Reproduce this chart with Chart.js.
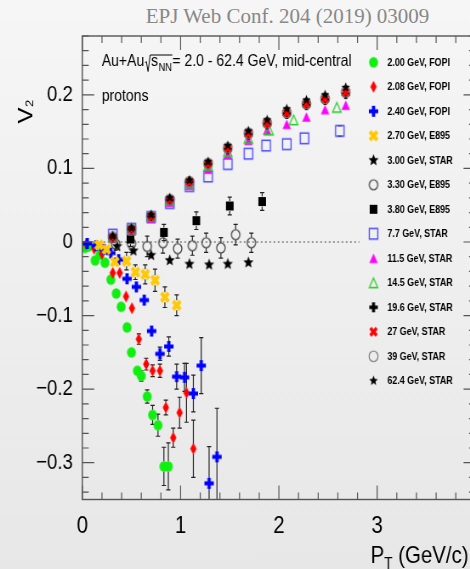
<!DOCTYPE html>
<html>
<head>
<meta charset="utf-8">
<script src="https://cdn.jsdelivr.net/npm/chart.js@4.4.1/dist/chart.umd.min.js"></script>
<style>
html, body { margin: 0; padding: 0; width: 470px; height: 569px; overflow: hidden; }
body { position: relative; background: linear-gradient(#f6f6f6, #e7e7e7); }
#head { position: absolute; left: 0; top: 6px; width: 575px; text-align: center;
        font: 21px/21px "Liberation Serif", "Times New Roman", serif; color: #888; }
#wrap { position: absolute; left: 0; top: 0; width: 578px; height: 569px;
        transform: scaleX(0.85); transform-origin: 0 0; }
</style>
</head>
<body>
<div id="head">EPJ Web Conf. 204 (2019) 03009</div>
<div id="wrap"><canvas id="myChart" width="578" height="569"></canvas></div>
<script>
// figure is squeezed horizontally, canvas coords = screen x / S
const S = 0.85

const labels = ['2.00 GeV, FOPI', '2.08 GeV, FOPI', '2.40 GeV, FOPI', '2.70 GeV, E895',
  '3.00 GeV, STAR', '3.30 GeV, E895', '3.80 GeV, E895', '7.7 GeV, STAR', '11.5 GeV, STAR',
  '14.5 GeV, STAR', '19.6 GeV, STAR', '27 GeV, STAR', '39 GeV, STAR', '62.4 GeV, STAR']

const x200 = [0.025, 0.06, 0.13, 0.18, 0.23, 0.29, 0.345, 0.395, 0.455, 0.50, 0.56, 0.60, 0.66, 0.715, 0.77, 0.83, 0.875]
const y200 = [-0.008, -0.006, -0.025, -0.017, -0.028, -0.051, -0.070, -0.088, -0.116, -0.150, -0.175, -0.182, -0.210, -0.235, -0.249, -0.305, -0.305]
const e200 = [0.002, 0.002, 0.002, 0.002, 0.003, 0.003, 0.003, 0.004, 0.004, 0.005, 0.006, 0.007, 0.009, 0.013, 0.015, 0.026, 0.032]

const x208 = [0.04, 0.12, 0.20, 0.31, 0.38, 0.445, 0.505, 0.575, 0.65, 0.715, 0.79, 0.85, 0.925, 0.99, 1.06, 1.13]
const y208 = [-0.003, -0.009, -0.016, -0.042, -0.042, -0.074, -0.090, -0.132, -0.166, -0.175, -0.175, -0.225, -0.266, -0.232, -0.205, -0.281]
const e208 = [0.002, 0.002, 0.003, 0.003, 0.004, 0.005, 0.006, 0.007, 0.008, 0.008, 0.009, 0.010, 0.013, 0.021, 0.040, 0.039]

const x240 = [0.05, 0.14, 0.22, 0.29, 0.37, 0.455, 0.55, 0.63, 0.705, 0.79, 0.88, 0.96, 1.04, 1.13, 1.21, 1.29, 1.37]
const y240 = [-0.002, -0.005, -0.010, -0.015, -0.024, -0.050, -0.061, -0.079, -0.121, -0.152, -0.142, -0.183, -0.184, -0.206, -0.168, -0.328, -0.292]
const e240 = [0.002, 0.002, 0.002, 0.003, 0.003, 0.004, 0.004, 0.005, 0.006, 0.009, 0.013, 0.017, 0.019, 0.025, 0.038, 0.050, 0.066]

const x270 = [0.17, 0.245, 0.33, 0.45, 0.54, 0.64, 0.74, 0.84, 0.96]
const y270 = [-0.004, -0.010, -0.027, -0.026, -0.041, -0.044, -0.052, -0.075, -0.086]
const e270 = [0.003, 0.004, 0.006, 0.012, 0.010, 0.013, 0.015, 0.014, 0.014]

const x300 = [0.355, 0.52, 0.70, 0.89, 1.09, 1.29, 1.48, 1.69]
const y300 = [-0.006, -0.012, -0.018, -0.025, -0.030, -0.031, -0.030, -0.028]
const e300 = [0.002, 0.002, 0.002, 0.002, 0.002, 0.002, 0.002, 0.002]

const x330 = [0.34, 0.50, 0.66, 0.82, 0.97, 1.12, 1.26, 1.41, 1.56, 1.72]
const y330 = [-0.003, -0.002, -0.006, -0.001, -0.009, -0.005, -0.001, -0.008, 0.010, -0.001]
const e330 = [0.008, 0.012, 0.014, 0.014, 0.013, 0.013, 0.013, 0.014, 0.014, 0.013]

const x380 = [0.49, 0.83, 1.16, 1.50, 1.83]
const y380 = [0.004, 0.013, 0.029, 0.049, 0.055]
const e380 = [0.010, 0.011, 0.012, 0.012, 0.012]

const x77 = [0.31, 0.50, 0.70, 0.89, 1.09, 1.28, 1.48, 1.69, 1.87, 2.08, 2.26, 2.62]
const y77 = [0.010, 0.018, 0.034, 0.053, 0.076, 0.089, 0.106, 0.120, 0.131, 0.133, 0.141, 0.151]
const e77 = [0.002, 0.002, 0.002, 0.002, 0.003, 0.003, 0.003, 0.003, 0.004, 0.004, 0.005, 0.007]

const x145 = [0.31, 0.50, 0.70, 0.89, 1.09, 1.28, 1.48, 1.69, 1.90, 2.15, 2.59]
const y145 = [0.007, 0.018, 0.035, 0.057, 0.080, 0.104, 0.123, 0.141, 0.152, 0.166, 0.183]
const e145 = [0.001, 0.001, 0.001, 0.002, 0.002, 0.002, 0.002, 0.003, 0.003, 0.003, 0.004]

// 11.5, 19.6, 27, 39, 62.4 GeV share the pT bins
const xHigh = [0.31, 0.50, 0.70, 0.89, 1.09, 1.28, 1.48, 1.69, 1.88, 2.08, 2.28, 2.47, 2.68]
const eHigh = [0.001, 0.001, 0.001, 0.001, 0.002, 0.002, 0.002, 0.002, 0.003, 0.003, 0.003, 0.004, 0.004]
const y115 = [0.005, 0.015, 0.032, 0.054, 0.077, 0.099, 0.119, 0.138, 0.152, 0.160, 0.170, 0.180, 0.186]
const y196 = [0.006, 0.017, 0.035, 0.057, 0.082, 0.106, 0.126, 0.146, 0.160, 0.174, 0.186, 0.193, 0.201]
const y27 = [0.006, 0.017, 0.034, 0.057, 0.081, 0.106, 0.127, 0.147, 0.161, 0.175, 0.187, 0.194, 0.203]
const y39 = [0.007, 0.018, 0.035, 0.058, 0.082, 0.107, 0.128, 0.148, 0.162, 0.176, 0.188, 0.195, 0.204]
const y624 = [0.008, 0.019, 0.037, 0.060, 0.084, 0.109, 0.131, 0.151, 0.166, 0.181, 0.193, 0.200, 0.210]

const zeroX = [0, 2.82]
const zeroY = [0, 0]

function mk(kind, color, w, h, lw) {
    const c = document.createElement('canvas')
    c.width = Math.ceil(Math.max(w, h)) + 6
    c.height = c.width
    const g = c.getContext('2d')
    g.translate(c.width / 2, c.height / 2)
    g.fillStyle = color
    g.strokeStyle = color
    g.lineWidth = lw || 1.2
    const a = w / 2, b = h / 2
    g.beginPath()
    if (kind == 'dot' || kind == 'ring') {
        g.ellipse(0, 0, a, b, 0, 0, 2 * Math.PI)
    } else if (kind == 'diamond') {
        g.moveTo(0, -b); g.lineTo(a, 0); g.lineTo(0, b); g.lineTo(-a, 0); g.closePath()
    } else if (kind == 'box' || kind == 'openbox') {
        g.rect(-a, -b, w, h)
    } else if (kind == 'tri' || kind == 'opentri') {
        g.moveTo(0, -b); g.lineTo(a, b); g.lineTo(-a, b); g.closePath()
    } else if (kind == 'plus' || kind == 'ex') {
        if (kind == 'ex') g.rotate(Math.PI / 4)
        const t = w * 0.35
        g.rect(-t / 2, -b, t, h)
        g.rect(-a, -t / 2, w, t)
    } else if (kind == 'star') {
        for (let i = 0; i < 10; i++) {
            const r = i % 2 ? a * 0.45 : a
            const ang = -Math.PI / 2 + i * Math.PI / 5
            g.lineTo(r * Math.cos(ang), r * Math.sin(ang))
        }
        g.closePath()
    }
    if (kind.startsWith('open') || kind == 'ring') g.stroke()
    else g.fill()
    return c
}

const styles = [
    mk('dot', '#10f010', 10.5, 10.5),
    mk('diamond', '#ff0000', 7.5, 12),
    mk('plus', '#0000ff', 11, 11),
    mk('ex', '#ffc800', 12, 12),
    mk('star', '#000', 12.5, 12.5),
    mk('ring', '#333', 10, 10, 1.2),
    mk('box', '#000', 9, 9),
    mk('openbox', '#4b4bff', 10, 10.5, 1.4),
    mk('tri', '#ff00ff', 10, 9.5),
    mk('opentri', '#22cc22', 10, 9.5, 1.3),
    mk('plus', '#000', 10, 10),
    mk('ex', '#ff0000', 10.5, 10.5),
    mk('ring', '#777', 10.5, 10.5, 1.2),
    mk('star', '#000', 10.5, 10.5)
]

function series(i, xs, ys, errs) {
    return {
        label: labels[i],
        data: xs.map((x, k) => ({x: x, y: ys[k]})),
        errs: errs,
        gap: 5,
        pointStyle: styles[i],
        pointRadius: 5,
        order: 20 - i,
        marker: true
    }
}

const datasets = [
    series(0, x200, y200, e200),
    series(1, x208, y208, e208),
    series(2, x240, y240, e240),
    series(3, x270, y270, e270),
    series(4, x300, y300, e300),
    series(5, x330, y330, e330),
    series(6, x380, y380, e380),
    series(7, x77, y77, e77),
    series(8, xHigh, y115, eHigh),
    series(9, x145, y145, e145),
    series(10, xHigh, y196, eHigh),
    series(11, xHigh, y27, eHigh),
    series(12, xHigh, y39, eHigh),
    series(13, xHigh, y624, eHigh),
    {
        type: 'line',
        data: zeroX.map((x, k) => ({x: x, y: zeroY[k]})),
        showLine: true,
        borderColor: '#444',
        borderWidth: 1,
        borderDash: [2, 3],
        pointRadius: 0,
        order: 99
    }
]

const errorBars = {
    id: 'errorBars',
    beforeDatasetsDraw(chart) {
        const {ctx, chartArea: a, scales: {x, y}} = chart
        ctx.save()
        ctx.beginPath()
        ctx.rect(a.left, a.top, a.width, a.height)
        ctx.clip()
        ctx.strokeStyle = '#222'
        ctx.lineWidth = 1.2
        chart.data.datasets.forEach(ds => {
            if (!ds.errs) return
            ds.data.forEach((p, k) => {
                const e = ds.errs[k]
                const px = x.getPixelForValue(p.x)
                const py = y.getPixelForValue(p.y)
                const top = y.getPixelForValue(p.y + e)
                const bot = y.getPixelForValue(p.y - e)
                if (py - top <= ds.gap) return
                ctx.beginPath()
                ctx.moveTo(px, top); ctx.lineTo(px, py - ds.gap)
                ctx.moveTo(px, py + ds.gap); ctx.lineTo(px, bot)
                ctx.moveTo(px - 2.5, top); ctx.lineTo(px + 2.5, top)
                ctx.moveTo(px - 2.5, bot); ctx.lineTo(px + 2.5, bot)
                ctx.stroke()
            })
        })
        ctx.restore()
    }
}

// ROOT style frame with inward ticks on all four sides
const frame = {
    id: 'frame',
    afterDatasetsDraw(chart) {
        const {ctx, chartArea: a, scales: {x, y}} = chart
        ctx.save()
        ctx.strokeStyle = '#555'
        ctx.lineWidth = 1.4
        ctx.strokeRect(a.left, a.top, a.right - a.left, a.bottom - a.top)
        ctx.lineWidth = 1.2
        ctx.beginPath()
        for (let k = 0; k <= 20; k++) {
            const px = x.getPixelForValue(k * 0.2)
            const L = k % 5 == 0 ? 14 : 7
            ctx.moveTo(px, a.bottom); ctx.lineTo(px, a.bottom - L)
            ctx.moveTo(px, a.top); ctx.lineTo(px, a.top + L)
        }
        for (let k = -17; k <= 14; k++) {
            const py = y.getPixelForValue(k * 0.02)
            const L = k % 5 == 0 ? 14 : 7.5
            ctx.moveTo(a.left, py); ctx.lineTo(a.left + L, py)
            ctx.moveTo(a.right, py); ctx.lineTo(a.right - L, py)
        }
        ctx.stroke()
        ctx.restore()
    }
}

const FONT = "'Liberation Sans', Arial, sans-serif"

const texts = {
    id: 'texts',
    afterDraw(chart) {
        const ctx = chart.ctx
        ctx.save()
        ctx.fillStyle = '#000'
        ctx.strokeStyle = '#000'
        ctx.textAlign = 'left'
        ctx.textBaseline = 'alphabetic'

        // Au+Au sqrt(s_NN) note
        let x = 101.7 / S
        const by = 66
        ctx.font = '16.5px ' + FONT
        ctx.fillText('Au+Au', x, by)
        x += ctx.measureText('Au+Au').width + 1
        const xs = x + 7
        ctx.fillText('s', xs, by)
        const xn = xs + ctx.measureText('s').width + 0.5
        ctx.font = '11px ' + FONT
        ctx.fillText('NN', xn, by + 4.5)
        const xe = xn + ctx.measureText('NN').width + 0.5
        ctx.lineWidth = 1
        ctx.beginPath()
        ctx.moveTo(x, by - 3); ctx.lineTo(x + 1.5, by - 4.5)
        ctx.lineTo(x + 3.5, by + 5.5); ctx.lineTo(x + 6, by - 11)
        ctx.lineTo(xe, by - 11)
        ctx.stroke()
        ctx.font = '16.5px ' + FONT
        ctx.fillText('= 2.0 - 62.4 GeV, mid-central', xe, by)
        ctx.fillText('protons', 101.7 / S, 101)

        // x title P_T (GeV/c), right aligned
        ctx.font = '24px ' + FONT
        const wP = ctx.measureText('P').width
        const rest = ' (GeV/c)'
        const wR = ctx.measureText(rest).width
        ctx.font = '16px ' + FONT
        const wT = ctx.measureText('T').width
        let tx = 468.5 / S - (wP + wT + wR)
        ctx.font = '24px ' + FONT
        ctx.fillText('P', tx, 563)
        ctx.font = '16px ' + FONT
        ctx.fillText('T', tx + wP, 569)
        ctx.font = '24px ' + FONT
        ctx.fillText(rest, tx + wP + wT, 563)

        // y title V_2
        ctx.save()
        ctx.translate(32.7 / S, 123.5)
        ctx.rotate(-Math.PI / 2)
        ctx.font = '24px ' + FONT
        ctx.fillText('V', 0, 0)
        const wV = ctx.measureText('V').width
        ctx.font = '13px ' + FONT
        ctx.fillText('2', wV + 0.5, 1)
        ctx.restore()

        // legend
        ctx.font = 'bold 10.5px ' + FONT
        ctx.textBaseline = 'middle'
        chart.data.datasets.filter(ds => ds.marker).forEach((ds, i) => {
            const cy = 62.3 + i * 24.5
            const img = ds.pointStyle
            ctx.drawImage(img, 373.5 / S - img.width / 2, cy - img.height / 2)
            ctx.fillText(ds.label, 387.3 / S, cy + 0.5)
        })
        ctx.restore()
    }
}

function fmtY(v) {
    const r = Math.round(v * 10) / 10
    if (r == 0) return '0'
    return r < 0 ? '\u2212' + (-r).toFixed(1) : r.toFixed(1)
}

Chart.defaults.font.family = FONT
const ctx = document.getElementById('myChart')
new Chart(ctx, {
    type: 'scatter',
    data: { datasets: datasets },
    options: {
        responsive: false,
        animation: false,
        layout: { padding: { top: 36, right: 10, left: 0, bottom: 0 } },
        plugins: {
            legend: { display: false },
            tooltip: { enabled: false }
        },
        scales: {
            x: {
                type: 'linear',
                min: 0,
                max: 4,
                grid: { display: false, drawTicks: false },
                border: { display: false },
                ticks: {
                    stepSize: 1,
                    padding: 12,
                    color: '#000',
                    font: { size: 24 },
                    maxRotation: 0,
                    callback: v => String(v)
                },
                afterFit: s => { s.height = 69.5 }
            },
            y: {
                type: 'linear',
                min: -0.35,
                max: 0.28,
                grid: { display: false, drawTicks: false },
                border: { display: false },
                ticks: {
                    stepSize: 0.1,
                    includeBounds: false,
                    padding: 11,
                    color: '#000',
                    font: { size: 22 },
                    callback: v => fmtY(v)
                },
                afterFit: s => { s.width = 82.3 / S }
            }
        }
    },
    plugins: [errorBars, frame, texts]
})
</script>
</body>
</html>
